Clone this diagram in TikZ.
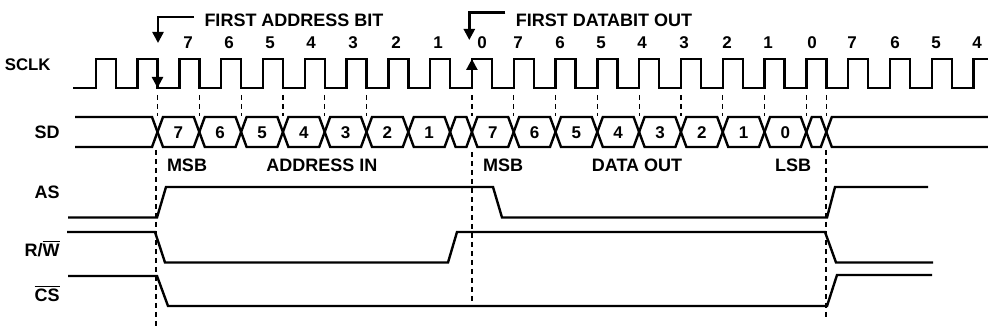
\documentclass[tikz,border=0pt]{standalone}
\usepackage{fontspec}
\setmainfont{Liberation Sans}
\usetikzlibrary{arrows.meta}
\tikzset{
  wave/.style={line width=1.2pt},
  guide/.style={line width=0.6pt,dash pattern=on 2.5pt off 2pt},
  lbl/.style={font=\fontsize{9}{10}\selectfont\bfseries,inner sep=0pt},
  bitlbl/.style={font=\fontsize{8.5}{10}\selectfont\bfseries,inner sep=0pt},
  tip/.style={-{Triangle[length=5.5pt,width=5.5pt]}}
}

\begin{document}
\begin{tikzpicture}[x=0.5pt,y=-0.5pt]
  \useasboundingbox (0,0) rectangle (988,330);
  % signal names
  \node (sclk) at (51,71) [lbl,anchor=base east,font=\fontsize{8.4}{9}\selectfont\bfseries] {SCLK};
  \node (sd)   at (60,139) [lbl,anchor=base east] {SD};
  \node (as)   at (60,198.5) [lbl,anchor=base east] {AS};
  \node (rw)   at (60,257) [lbl,anchor=base east] {R/$\overline{\mbox{W}}$};
  \node (cs)   at (60,301.5) [lbl,anchor=base east] {$\overline{\mbox{CS}}$};
  % clock
  \draw[wave] (73,88) foreach \i in {0,...,20} {
      -- ({95.7+41.8*\i},88) -- ({95.7+41.8*\i},59)
      -- ({115.7+41.8*\i},59) -- ({115.7+41.8*\i},88) }
    -- (973.5,88) -- (973.5,59) -- (988,59);
  \foreach \x/\v [count=\n] in {188/7,229/6,270/5,311/4,353/3,396/2,438/1,482/0,
      518/7,560/6,601/5,642/4,684/3,727/2,768/1,812/0,852/7,895/6,936/5,977/4}
    \node (clkbit\n) at (\x,43) [bitlbl] {\v};
  % clock edge markers
  \coordinate (dnA) at (157.5,59);
  \coordinate (dnB) at (157.5,88);
  \coordinate (upA) at (471.9,88);
  \coordinate (upB) at (471.9,59);
  \draw[wave,tip] (dnA) -- (dnB);
  \draw[wave,tip] (upA) -- (upB);
  % annotations
  \node (fab) at (294,20) [lbl] {FIRST ADDRESS BIT};
  \node (fdo) at (604,20) [lbl] {FIRST DATABIT OUT};
  \coordinate (adrtip) at (158,43);
  \coordinate (dattip) at (469.3,40);
  \draw[wave,tip] ([xshift=-5pt,yshift=1.6pt]fab.west) -| (adrtip);
  \draw[wave,tip] ([xshift=-5pt,yshift=3.8pt]fdo.west) -| (dattip);
  % serial data bus
  \draw[wave] (75,117) -- (152,117) -- (157.5,132) -- (152,147) -- (75,147);
  \foreach \a/\b/\v [count=\n] in {157.5/199.3/7,199.3/241.1/6,241.1/282.9/5,
      282.9/324.7/4,324.7/366.5/3,366.5/408.3/2,408.3/450.1/1,
      471.9/513.7/7,513.7/555.5/6,555.5/597.3/5,597.3/639.1/4,
      639.1/680.9/3,680.9/722.7/2,722.7/764.5/1,764.5/806.3/0}
  {
    \draw[wave] (\a,132) -- ({\a+5.5},117) -- ({\b-5.5},117) -- (\b,132)
      -- ({\b-5.5},147) -- ({\a+5.5},147) -- cycle;
    \node (sdbit\n) at ({(\a+\b)/2},132.5) [bitlbl] {\v};
  }
  \foreach \a/\b in {450.1/471.9,806.3/826.3}
    \draw[wave] (\a,132) -- ({\a+5.5},117) -- ({\b-5.5},117) -- (\b,132)
      -- ({\b-5.5},147) -- ({\a+5.5},147) -- cycle;
  \draw[wave] (988,117) -- (831.8,117) -- (826.3,132) -- (831.8,147) -- (988,147);
  % short guides
  \foreach \t in {157.5,199.3,241.1,282.9,324.7,366.5,471.9,513.7,555.5,
      597.3,639.1,680.9,722.7,764.5,806.3,826.3}
    \draw[guide] (\t,95) -- (\t,116);
  % bus labels
  \node (msba) at (187,165) [lbl] {MSB};
  \node (adin) at (322,165) [lbl] {ADDRESS IN};
  \node (msbd) at (503,165) [lbl] {MSB};
  \node (dout) at (637,165) [lbl] {DATA OUT};
  \node (lsb)  at (793,165) [lbl] {LSB};
  % long guides
  \draw[guide] (156,150) -- (156,328);
  \draw[guide] (472,152) -- (472,304);
  \draw[guide] (826,150) -- (826,320);
  % control lines
  \draw[wave] (68,217.5) -- (157,217.5) -- (166,187) -- (493,187) -- (502,217.5)
    -- (827,217.5) -- (835,187) -- (928,187);
  \draw[wave] (67,232) -- (155,232) -- (165,262.5) -- (448,262.5) -- (457,232)
    -- (825,232) -- (836,262.5) -- (933,262.5);
  \draw[wave] (68,276) -- (157,276) -- (168,306) -- (827,306) -- (837,275)
    -- (932,275);
\end{tikzpicture}
\end{document}
